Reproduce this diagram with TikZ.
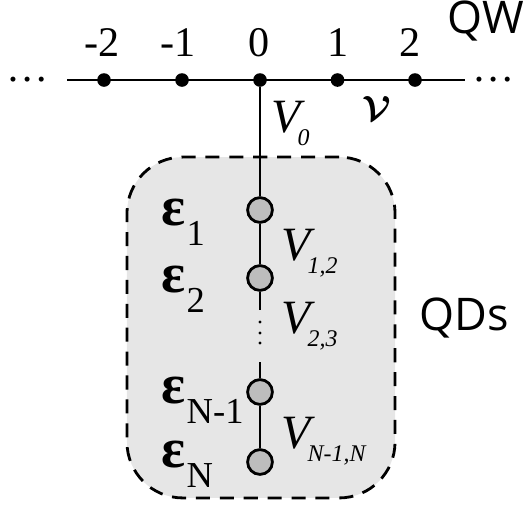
\documentclass[tikz,border=0pt]{standalone}
\usepackage{fontspec}
\setmainfont{Liberation Serif}
\newfontfamily\labsans{Open Sans}
\usetikzlibrary{positioning}
\definecolor{qdgray}{HTML}{BDBDBD}
\definecolor{boxgray}{HTML}{E6E6E6}
\newcommand{\epslab}[1]{{\bfseries\fontsize{40}{40}\selectfont ε}\kern1pt\raisebox{-0.52cm}{\fontsize{26}{26}\selectfont #1}}
\newcommand{\Vlab}[1]{{\itshape\fontsize{34}{34}\selectfont V}\kern-2pt\raisebox{-0.33cm}{\itshape\fontsize{17}{17}\selectfont #1}}
\tikzset{
  bond/.style={line width=2pt},
  site/.style={circle, fill=black, inner sep=0pt, minimum size=0.34cm},
  qdot/.style={circle, draw=black, line width=2pt, fill=qdgray, inner sep=0pt, minimum size=0.62cm},
  gapdot/.style={circle, fill=black, inner sep=0pt, minimum size=0.08cm},
  qdregion/.style={draw, line width=2pt, dash pattern=on 10pt off 7pt, rounded corners=1.4cm, fill=boxgray, minimum width=6.7cm, minimum height=8.52cm},
  numlab/.style={anchor=base, inner sep=0pt, font=\fontsize{30}{30}\selectfont},
  lab/.style={anchor=base west, inner sep=0pt},
  sanslab/.style={inner sep=0pt, font=\labsans\fontsize{32}{32}\selectfont}
}
\begin{document}
\begin{tikzpicture}[x=0.025cm, y=-0.025cm]
  \useasboundingbox (0,0) rectangle (532,508);
  % quantum dots region
  \node[qdregion] (qds) at (261,327.5) {};
  % wire
  \coordinate (wl) at (67,80);
  \coordinate (wr) at (465,80);
  \draw[bond] (wl) -- (wr);
  \node[site] (sm2) at (104,80) {};
  \node[site] (sm1) at (182,80) {};
  \node[site] (s0) at (260,80) {};
  \node[site] (s1) at (337.5,80) {};
  \node[site] (s2) at (415,80) {};
  \node[numlab] (nm2) at (102,56) {-2};
  \node[numlab] (nm1) at (178,56) {-1};
  \node[numlab] (n0) at (259,56) {0};
  \node[numlab] (n1) at (338,56) {1};
  \node[numlab] (n2) at (410,56) {2};
  \node[numlab] (ldots) at (28,81) {…};
  \node[numlab] (rdots) at (494,81) {…};
  \node[sanslab] (qw) at (486,21) {QW};
  \node[lab] (v0) at (271,132) {\Vlab{0}};
  \node[inner sep=0pt, font=\fontsize{42}{42}\selectfont\boldmath] (vw) at (377,108) {$\mathcal{V}$};
  % dots chain
  \node[qdot] (dot1) at (260,210) {};
  \node[qdot] (dot2) at (260,278) {};
  \node[qdot] (dotn1) at (260,392) {};
  \node[qdot] (dotn) at (260,462) {};
  \coordinate (gap1) at (260,310);
  \coordinate (gap2) at (260,362);
  \node[gapdot] (g1) at (260,322) {};
  \node[gapdot] (g2) at (260,333) {};
  \node[gapdot] (g3) at (260,343) {};
  \draw[bond] (s0) -- (dot1);
  \draw[bond] (dot1) -- (dot2);
  \draw[bond] (dot2) -- (gap1);
  \draw[bond] (gap2) -- (dotn1);
  \draw[bond] (dotn1) -- (dotn);
  \node[lab] (e1) at (161,225) {\epslab{1}};
  \node[lab] (e2) at (161,292) {\epslab{2}};
  \node[lab] (en1) at (161,403) {\epslab{N-1}};
  \node[lab] (en) at (161,467) {\epslab{N}};
  \node[lab] (v12) at (281,260) {\Vlab{1,2}};
  \node[lab] (v23) at (281,333) {\Vlab{2,3}};
  \node[lab] (vn) at (281,448) {\Vlab{N-1,N}};
  \node[sanslab] (qdlab) at (464,318) {QDs};
\end{tikzpicture}
\end{document}
